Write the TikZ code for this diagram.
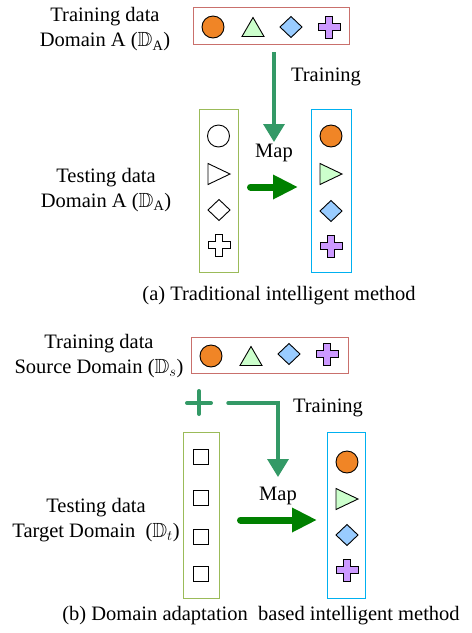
\documentclass[tikz,border=0pt]{standalone}
\usepackage{fontspec}
\setmainfont{Liberation Serif}
\usepackage{amssymb}
\usetikzlibrary{arrows.meta}
\definecolor{boxred}{HTML}{C9706C}
\definecolor{boxgreen}{HTML}{9BBB59}
\definecolor{boxblue}{HTML}{00B0F0}
\definecolor{fillorange}{HTML}{F08526}
\definecolor{filltri}{HTML}{CCFFCC}
\definecolor{filldia}{HTML}{99CCFF}
\definecolor{fillplus}{HTML}{CC99FF}
\definecolor{trainC}{HTML}{339966}
\definecolor{mapC}{HTML}{008000}
\begin{document}
\begin{tikzpicture}[x=1pt,y=-1pt,
  font=\fontsize{20.5}{25}\selectfont,
  box/.style={draw=#1, line width=1pt, inner sep=0pt},
  lbl/.style={align=center, inner sep=0pt},
  shp/.style={draw=black, line width=0.9pt, line join=miter},
  trainarrow/.style={draw=trainC, line width=3.4pt, -{Triangle[width=21pt,length=18pt]}},
  maparrow/.style={draw=mapC, line width=7pt, line cap=round, -{Triangle[width=23pt,length=25pt]}},
  pics/circ/.style={code={\draw[shp,fill=#1] (0,0) circle[radius=11];}},
  pics/triup/.style={code={\draw[shp,fill=#1] (-11,9.5) -- (11,9.5) -- (0,-9.5) -- cycle;}},
  pics/trir/.style={code={\draw[shp,fill=#1] (-11,-10.5) -- (11,0) -- (-11,10.5) -- cycle;}},
  pics/dia/.style={code={\draw[shp,fill=#1] (-11,0) -- (0,-10.5) -- (11,0) -- (0,10.5) -- cycle;}},
  pics/plus/.style={code={\draw[shp,fill=#1] (-3.5,-11) -- (3.5,-11) -- (3.5,-3.5) -- (11,-3.5) -- (11,3.5) -- (3.5,3.5) -- (3.5,11) -- (-3.5,11) -- (-3.5,3.5) -- (-11,3.5) -- (-11,-3.5) -- (-3.5,-3.5) -- cycle;}},
  pics/sq/.style={code={\draw[shp,fill=white] (-7.5,-7.5) rectangle (7.5,7.5);}}
]
\useasboundingbox (0,0) rectangle (472,633);

% ---------- (a) ----------
\node[box=boxred, minimum width=156pt, minimum height=37pt] (redA) at (271,25.5) {};
\node[box=boxgreen, minimum width=39pt, minimum height=163pt] (greenA) at (218.5,190.5) {};
\node[box=boxblue, minimum width=40pt, minimum height=163pt] (blueA) at (331,190.5) {};

\pic at (213,27) {circ=fillorange};
\pic at (253,27) {triup=filltri};
\pic at (291,27) {dia=filldia};
\pic at (329,27) {plus=fillplus};

\pic at (218.5,136) {circ=white};
\pic at (219,174) {trir=white};
\pic at (219,210) {dia=white};
\pic at (219,245) {plus=white};

\pic at (331,136) {circ=fillorange};
\pic at (331,174) {trir=filltri};
\pic at (331,211) {dia=filldia};
\pic at (331,246) {plus=fillplus};

\node[lbl] (trainA) at (105,29.5) {Training data\\Domain A ($\mathbb{D}_{\mathrm{A}}$)};
\node[lbl] (testA) at (106,190) {Testing data\\Domain A ($\mathbb{D}_{\mathrm{A}}$)};
\node[lbl] (trlblA) at (326,77) {Training};
\node[lbl] (maplblA) at (274,153) {Map};
\node[lbl] (capA) at (279,296) {(a) Traditional intelligent method};

\coordinate (trAs) at (274,52);
\coordinate (trAe) at (274,142);
\draw[trainarrow] (trAs) -- (trAe);
\coordinate (mapAs) at (250.5,187);
\coordinate (mapAe) at (298,187);
\draw[maparrow] (mapAs) -- (mapAe);

% ---------- (b) ----------
\node[box=boxred, minimum width=157pt, minimum height=36pt] (redB) at (269.5,355) {};
\node[box=boxgreen, minimum width=36pt, minimum height=166pt] (greenB) at (201,515) {};
\node[box=boxblue, minimum width=38pt, minimum height=166pt] (blueB) at (346,515) {};

\pic at (211,356) {circ=fillorange};
\pic at (251,356) {triup=filltri};
\pic at (289,354) {dia=filldia};
\pic at (327,354) {plus=fillplus};

\pic at (201,457) {sq};
\pic at (201,498) {sq};
\pic at (201,537) {sq};
\pic at (201,574) {sq};

\pic at (347,462) {circ=fillorange};
\pic at (347,499) {trir=filltri};
\pic at (347,535) {dia=filldia};
\pic at (347,570) {plus=fillplus};

\node[lbl] (trainB) at (99,356) {Training data\\Source Domain ($\mathbb{D}_{s}$)};
\node[lbl] (testB) at (96,520) {Testing data\\Target Domain~ ($\mathbb{D}_{t}$)};
\node[lbl] (trlblB) at (328,408) {Training};
\node[lbl] (maplblB) at (278,496) {Map};
\node[lbl] (capB) at (261,616) {(b) Domain adaptation~ based intelligent method};

\draw[trainC, line width=4pt, line cap=round] (187,403) -- (211,403) (199,391) -- (199,414);

\coordinate (trBs) at (228,403);
\coordinate (trBe) at (278,477);
\draw[trainarrow, line cap=round] (trBs) -| (trBe);
\coordinate (mapBs) at (240.5,520);
\coordinate (mapBe) at (317,520);
\draw[maparrow] (mapBs) -- (mapBe);
\end{tikzpicture}
\end{document}
